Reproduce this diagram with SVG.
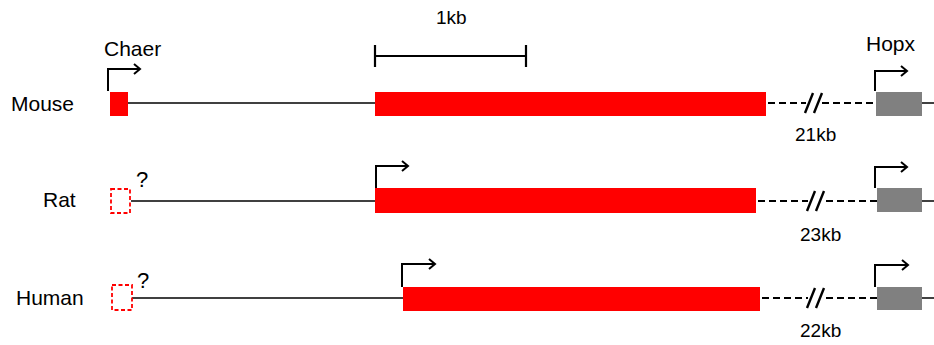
<svg xmlns="http://www.w3.org/2000/svg" width="934" height="345" viewBox="0 0 934 345">
  <defs>
    <style>
      text { font-family: "Liberation Sans", Arial, sans-serif; fill: #000; }
      .lbl { font-size: 21px; }
      .q { font-size: 22px; }
      .kb { font-size: 19px; }
      .intron { stroke: #404040; stroke-width: 2; fill: none; }
      .gap { stroke: #000; stroke-width: 2.2; stroke-dasharray: 7 4; fill: none; }
      .brk { stroke: #000; stroke-width: 2.4; fill: none; }
      .exon { fill: #ff0000; }
      .hopx { fill: #808080; }
      .unk { fill: none; stroke: #ff0000; stroke-width: 1.8; stroke-dasharray: 4 2.5; }
      .tss { stroke: #000; stroke-width: 2; fill: none; }
      .scale { stroke: #000; stroke-width: 2.2; fill: none; }
    </style>
  </defs>

  <!-- scale bar -->
  <g id="scale">
    <text class="kb" x="436" y="24">1kb</text>
    <path class="scale" d="M375 56 H526 M375 45 V67 M526 45 V67"/>
  </g>

  <!-- Mouse locus -->
  <g id="mouse">
    <text class="lbl" x="11" y="111">Mouse</text>
    <text class="lbl" x="104" y="56">Chaer</text>
    <text class="lbl" x="866" y="51">Hopx</text>
    <path class="intron" d="M127 103 H376 M921 103 H934"/>
    <rect class="exon" x="110" y="92" width="18" height="24"/>
    <rect class="exon" x="375" y="92" width="391" height="24"/>
    <rect class="hopx" x="876" y="92" width="46" height="24"/>
    <path class="tss" d="M108 91 V69 H140 M134 64 L140 69 L134 74"/>
    <path class="tss" d="M875 91 V71 H907 M901 66 L907 71 L901 76"/>
  </g>

  <!-- Rat locus -->
  <g id="rat">
    <text class="lbl" x="43" y="207">Rat</text>
    <text class="q" x="136" y="187">?</text>
    <path class="intron" d="M131 201 H376 M921 201 H934"/>
    <rect class="unk" x="111" y="189" width="19" height="24"/>
    <rect class="exon" x="375" y="188" width="381" height="25"/>
    <rect class="hopx" x="877" y="188" width="45" height="24"/>
    <path class="tss" d="M376 188 V166 H408 M402 161 L408 166 L402 171"/>
    <path class="tss" d="M875 188 V167 H907 M901 162 L907 167 L901 172"/>
  </g>

  <!-- Human locus -->
  <g id="human">
    <text class="lbl" x="16" y="305">Human</text>
    <text class="q" x="137" y="288">?</text>
    <path class="intron" d="M132 298 H404 M922 298 H934"/>
    <rect class="unk" x="112" y="285" width="20" height="25"/>
    <rect class="exon" x="403" y="287" width="357" height="24"/>
    <rect class="hopx" x="877" y="287" width="45" height="23"/>
    <path class="tss" d="M402 287 V264 H435 M429 259 L435 264 L429 269"/>
    <path class="tss" d="M875 287 V265 H908 M902 260 L908 265 L902 270"/>
  </g>

  <!-- intergenic gaps with break marks -->
  <g id="connectors">
    <path class="gap" d="M768 103 H806 M822 103 H876"/>
    <path class="brk" d="M805 113 L813 93 M814 113 L822 93"/>
    <text class="kb" x="795" y="141">21kb</text>

    <path class="gap" d="M758 201 H808 M826 201 H877"/>
    <path class="brk" d="M807 211 L815 191 M816 211 L824 191"/>
    <text class="kb" x="800" y="241">23kb</text>

    <path class="gap" d="M762 298 H808 M826 298 H877"/>
    <path class="brk" d="M807 308 L815 288 M816 308 L824 288"/>
    <text class="kb" x="800" y="337">22kb</text>
  </g>
</svg>
